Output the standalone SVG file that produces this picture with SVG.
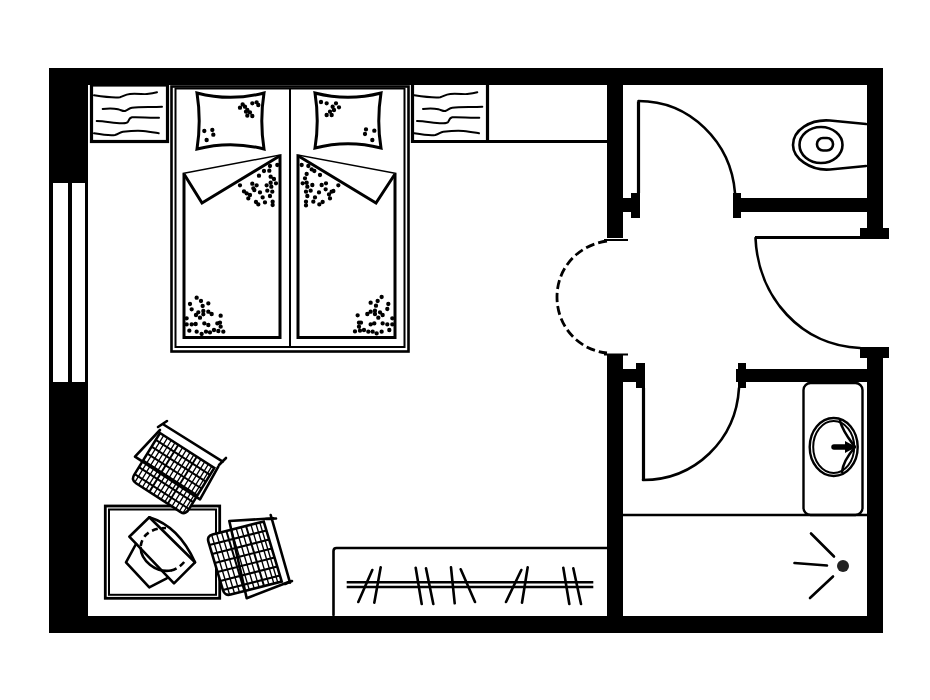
<svg xmlns="http://www.w3.org/2000/svg" width="930" height="700" viewBox="0 0 930 700">
<style>
.w{fill:#000;stroke:none}
.l{fill:none;stroke:#000;stroke-width:2.6;stroke-linejoin:round;stroke-linecap:round}
.t{fill:none;stroke:#000;stroke-width:3.2;stroke-linejoin:miter}
.m{fill:#fff;stroke:#000;stroke-width:3;stroke-linejoin:miter}
.d{fill:none;stroke:#000;stroke-linecap:round;stroke-width:13}
.wv{fill:none;stroke:#000;stroke-width:2;stroke-linecap:round}
.ga{fill:none;stroke:#000;stroke-width:2}
.gb{fill:none;stroke:#000;stroke-width:1.3}
</style>
<defs>
<g id="waves">
<path class="wv" d="M94 95.3C105 97 113 98 120 97.3C124 96 125 94.5 130 94C137 93.5 145 94.5 147 94C151 93.5 154 93 157 92.3"/>
<path class="wv" d="M102.7 109C108 108.500 114 108.500 118 109.300C121 110 123 111.500 125 111C128 110 129 108 132 107.700C140 107 152 107.200 162 106.700"/>
<path class="wv" d="M96.7 121C105 121 113 123 121.700 123.300C126 123.500 127.500 122.500 128 121.700C129 119.500 129.500 117.800 132 117.300C140 116.800 150 118.200 159 117.700"/>
<path class="wv" d="M94 133.300C101 134.500 110 136 115 135C119 134 120 132 123 131.700C130 131 137 130.500 143 131C149 131.500 154 132.500 158.700 133.300"/>
</g>
</defs>
<rect width="930" height="700" fill="#fff"/>

<g id="walls">
<rect class="w" x="49" y="68" width="833" height="17"/>
<rect class="w" x="49" y="68" width="39" height="565"/>
<rect class="w" x="49" y="616" width="833" height="17"/>
<rect class="w" x="867" y="68" width="16" height="160"/>
<rect class="w" x="860" y="228" width="29" height="11"/>
<rect class="w" x="860" y="347" width="29" height="11"/>
<rect class="w" x="867" y="358" width="16" height="275"/>
<rect class="w" x="607" y="85" width="16" height="153"/>
<rect class="w" x="607" y="355" width="16" height="261"/>
<rect class="w" x="623" y="198" width="10" height="14"/>
<rect class="w" x="631" y="193" width="9" height="25"/>
<rect class="w" x="733" y="193" width="8" height="25"/>
<rect class="w" x="741" y="198" width="126" height="14"/>
<rect class="w" x="623" y="369" width="16" height="13"/>
<rect class="w" x="636" y="363" width="9" height="25"/>
<rect class="w" x="736" y="369" width="131" height="13"/>
<rect class="w" x="738" y="363" width="8" height="25"/>
</g>

<g id="window">
<rect x="53" y="183" width="15" height="199" fill="#fff"/>
<rect x="72" y="183" width="13" height="199" fill="#fff"/>
</g>

<g id="wardrobe-top-left">
<rect class="t" x="91.500" y="85" width="76" height="56.500" fill="#fff"/>
<use href="#waves"/>
</g>
<g id="wardrobe-top-right">
<path class="t" d="M412.500 85V141.500H607"/>
<path class="t" d="M487.500 85V141.500"/>
<use href="#waves" transform="translate(320.300 0)"/>
</g>

<g id="bed">
<rect x="171.500" y="86.500" width="237" height="265" fill="#fff" stroke="#000" stroke-width="2.600"/>
<rect x="175.500" y="88.500" width="229" height="258.500" fill="none" stroke="#000" stroke-width="2"/>
<path d="M290 88V347" stroke="#000" stroke-width="2" fill="none"/>
<path class="m" d="M197 93C220 99 241 99 264 93C261 112 261 130 264 149C241 143 220 143 197 149C200 130 200 112 197 93Z"/>
<path class="m" d="M315 93C338 99 358 99 381 93C378 112 378 130 381 148C358 142 338 142 315 148C318 130 318 112 315 93Z"/>
<path class="m" d="M184 174V337.500H280V155.700Z"/>
<path class="m" d="M184 174L202 203L280 155.700"/>
<path class="m" d="M395 174V337.500H298V155.700Z"/>
<path class="m" d="M395 174L376 203L298 155.700"/>
<path class="d" transform="translate(40 60) scale(.3333)" d="M637 130h0M650 127h0M608 133h0M600 143h0M615 140h0M622 150h0M618 155h0M630 157h0M622 167h0M637 168h0M655 135h0M493 213h0M517 210h0M520 224h0M500 240h0"/>
<path class="d" transform="translate(280 60) scale(.3333)" d="M123 126h0M140 130h0M168 130h0M177 142h0M158 140h0M162 150h0M150 155h0M155 165h0M140 165h0M258 208h0M283 212h0M255 222h0M277 240h0"/>
<path class="d" transform="translate(40 60) scale(.3333)" d="M712 315h0M690 318h0M672 333h0M688 332h0M657 347h0M692 350h0M702 357h0M692 368h0M708 370h0M680 376h0M637 371h0M650 376h0M600 376h0M694 380h0M682 392h0M660 397h0M697 395h0M612 394h0M620 400h0M630 405h0M643 390h0M625 415h0M668 412h0M690 408h0M648 426h0M655 433h0M675 427h0M698 425h0M698 435h0M640 385h0"/>
<path class="d" transform="translate(280 60) scale(.3333)" d="M65 315h0M85 318h0M103 333h0M95 328h0M120 345h0M80 342h0M75 355h0M80 368h0M68 370h0M97 375h0M138 370h0M125 375h0M175 376h0M82 380h0M92 392h0M117 397h0M78 395h0M155 395h0M147 403h0M137 388h0M160 393h0M150 415h0M105 412h0M82 408h0M128 426h0M118 433h0M100 425h0M78 425h0M78 436h0"/>
<path class="d" transform="translate(160 270) scale(.3333)" d="M110 83h0M90 102h0M145 100h0M123 93h0M128 108h0M95 118h0M130 123h0M145 125h0M155 132h0M115 127h0M108 135h0M120 143h0M130 133h0M182 137h0M80 145h0M80 163h0M95 163h0M107 162h0M133 160h0M145 165h0M172 160h0M180 158h0M182 170h0M88 182h0M110 185h0M125 192h0M138 185h0M150 187h0M162 180h0M175 183h0M190 185h0"/>
<path class="d" transform="translate(160 270) scale(.3333)" d="M665 81h0M653 93h0M685 102h0M632 98h0M648 107h0M682 117h0M645 122h0M632 125h0M622 132h0M660 127h0M668 135h0M655 143h0M645 132h0M593 136h0M697 145h0M697 163h0M682 163h0M668 160h0M643 160h0M632 163h0M603 158h0M597 158h0M597 170h0M688 180h0M665 185h0M650 190h0M638 185h0M625 185h0M612 180h0M600 182h0M585 184h0"/>
</g>

<g id="table">
<rect x="105.300" y="506" width="114.400" height="92.300" fill="#fff" stroke="#000" stroke-width="2.800"/>
<rect x="109" y="509.500" width="107" height="85.300" fill="none" stroke="#000" stroke-width="2"/>
<path class="l" d="M149.300 517.300L195 562.300L174 583.300L129.300 536.700Z"/>
<path class="l" d="M136 544L126 562.300L149.300 587.300L166.700 578.300"/>
<path class="l" d="M149.300 517.300C168 523 184 538 195 562.300"/>
<path class="l" d="M140.700 548C141 560 155 573 171 570.500"/>
<path fill="none" stroke="#000" stroke-width="2.600" stroke-dasharray="6 4" d="M171 570.500C176 569.500 181 566 185 561"/>
<path fill="none" stroke="#000" stroke-width="2.600" stroke-dasharray="6 4" d="M140.700 546C142 536 150 528 166 528"/>
</g>

<g id="chair-top">
<g transform="matrix(.835 .538 -.527 .855 160 433)">
<path fill="#fff" stroke="#000" stroke-width="2.600" d="M0 0H65V49Q65 55 59 55H6Q0 55 0 49Z"/>
<path class="ga" d="M0 8H65M0 16H65M0 24H65M0 32H65M0 40H65M0 48H65M22 0V55M44 0V55"/>
<path class="gb" d="M4.500 0V55M9 0V55M13.500 0V55M18 0V55M27 0V55M31.500 0V55M36 0V55M40.500 0V55M49 0V55M53.500 0V55M58 0V55M62 0V55"/>
</g>
<path class="l" d="M160 430L135 456.700L200 499.300L218.300 466.700"/>
<path class="l" d="M162.700 424L222.700 461.700M158 427L167 421M219 465L226 458"/>
</g>

<g id="chair-right">
<g transform="matrix(.983 -.25 .3 1 206.700 536)">
<path fill="#fff" stroke="#000" stroke-width="2.600" d="M6 0H58V60H6Q0 60 0 54V6Q0 0 6 0Z"/>
<path class="ga" d="M0 9H58M0 18H58M0 27H58M0 36H58M0 45H58M0 54H58M20 0V60M40 0V60"/>
<path class="gb" d="M5 0V60M10 0V60M15 0V60M25 0V60M30 0V60M35 0V60M45 0V60M50 0V60M54 0V60"/>
</g>
<path class="l" d="M273.300 518.300L229.300 521L246.700 598.300L289.300 581.700"/>
<path class="l" d="M270.700 515L290 582.700M266 519L276 518.500M285 584L292 581"/>
</g>

<g id="wardrobe-bottom">
<path class="l" d="M333.500 615V551Q333.500 548 336.500 548H607"/>
<path fill="none" stroke="#000" stroke-width="2.600" d="M346.700 582.300H593.300M346.700 587H593.300"/>
<path fill="none" stroke="#000" stroke-width="2.600" stroke-linecap="round" d="M372.300 570L358.300 602M380.700 567.300L374.300 602.700M415.700 567.700L421.700 604M426 568.300L433.300 604M451 567.300L454.700 603.300M460.700 569.300L475 602M521.300 570L506 602M527.700 567.300L522 602.700M563.300 567.700L569.300 604M573.300 568.300L581 604"/>
</g>

<g id="door-wc">
<path fill="none" stroke="#000" stroke-width="3.200" d="M638.500 193V101.500"/>
<path class="l" d="M638.500 101C690 101 731 142 735 193"/>
</g>
<g id="door-bath">
<path fill="none" stroke="#000" stroke-width="3.200" d="M643.500 388V480"/>
<path class="l" d="M643 480C695 480 736 440 739 388"/>
</g>
<g id="door-main">
<path fill="none" stroke="#000" stroke-width="3.200" d="M860 237.500H755"/>
<path class="l" d="M755.500 238C758 298 802 346 860 348"/>
</g>
<g id="door-entry">
<path fill="none" stroke="#000" stroke-width="2.800" stroke-dasharray="9 4" d="M607 241C578 245 557 268 557 297C557 326 578 350 607 353"/>
<path fill="none" stroke="#000" stroke-width="2.200" d="M604 240H628M604 354.500H628"/>
</g>

<g id="toilet">
<path class="l" d="M866 124L830 120.500C810 119 793 130 793 145C793 158 810 171 830 169.500L866 166"/>
<ellipse class="l" cx="821" cy="145" rx="21.500" ry="18"/>
<rect class="l" x="817" y="138" width="16" height="12.500" rx="6"/>
</g>

<g id="sink">
<rect x="803.500" y="383" width="59" height="132" rx="7" fill="#fff" stroke="#000" stroke-width="2.400"/>
<ellipse cx="833.700" cy="447" rx="24" ry="29" fill="none" stroke="#000" stroke-width="2.400"/>
<ellipse cx="833.700" cy="447" rx="20.500" ry="26" fill="none" stroke="#000" stroke-width="2"/>
<path class="l" d="M840 421C843 432 850 440 855 447C849 454 843 462 842 472"/>
<path fill="none" stroke="#000" stroke-width="5.500" stroke-linecap="round" d="M834 447H850"/>
<path d="M845 441L856 447L845 453Z"/>
</g>

<g id="shower">
<path fill="none" stroke="#000" stroke-width="2.400" d="M623 515H867"/>
<circle cx="843" cy="566" r="6" fill="#222"/>
<path fill="none" stroke="#000" stroke-width="2.600" stroke-linecap="round" d="M811 533.500L834 556.500M794.500 563L827 565.500M833 576.500L810 598"/>
</g>
</svg>
